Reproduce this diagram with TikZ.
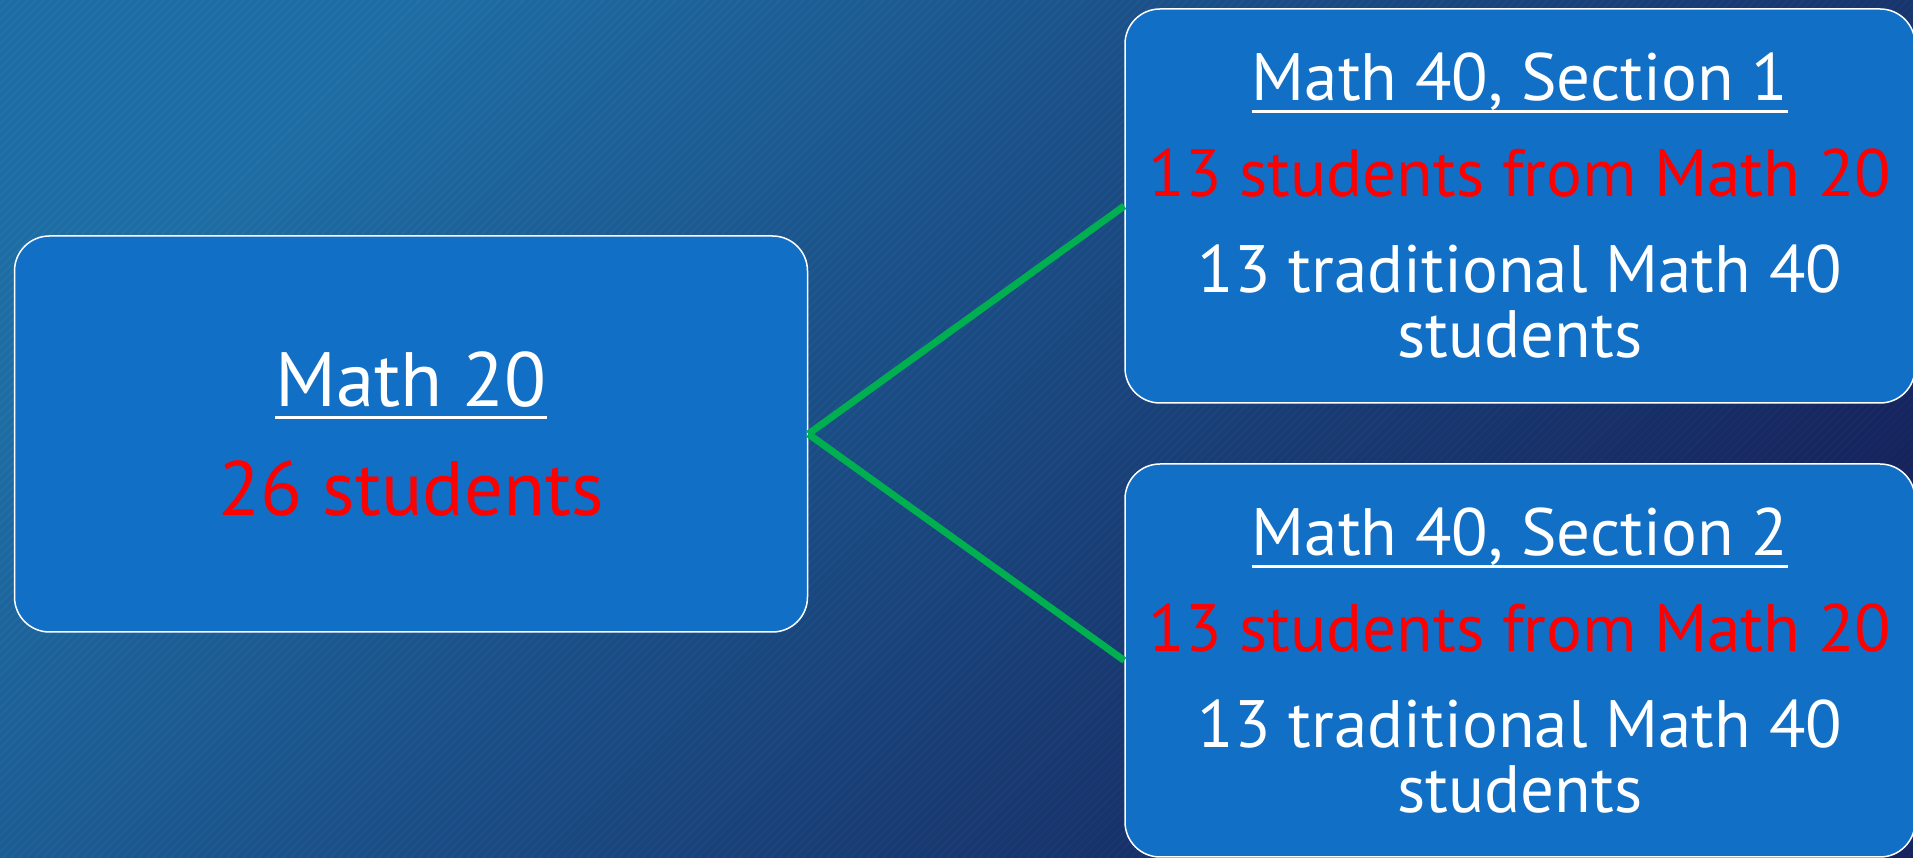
\documentclass[tikz,border=0pt]{standalone}
\usepackage{fontspec}
\setmainfont{PT Sans}
\usepackage{tikz}

\definecolor{bgtop}{RGB}{33,114,170}
\definecolor{bgbot}{RGB}{24,38,96}
\definecolor{boxblue}{RGB}{18,111,198}
\definecolor{linkgreen}{RGB}{0,176,80}

\newcommand\ulhead[1]{\setbox0\hbox{#1}\rlap{\rule[-12.5pt]{\wd0}{3pt}}\box0}

\tikzset{
  course/.style={draw=white, line width=1.5pt, fill=boxblue, rounded corners=35pt,
                 text=white, align=center, inner sep=0pt},
  bigtext/.style={font=\fontsize{77}{80}\selectfont},
  smalltext/.style={font=\fontsize{67}{65}\selectfont},
  link/.style={linkgreen, line width=7pt}
}

\begin{document}
\begin{tikzpicture}[x=1pt,y=1pt]
\useasboundingbox (0,0) rectangle (1913,858);
\shade[shading=axis, top color=bgtop, bottom color=bgbot, shading angle=45] (0,0) rectangle (1913,858);
\begin{scope}
\clip (0,0) rectangle (1913,858);
\foreach \i in {0,8,...,2780}
        \draw[black, opacity=0.05, line width=3pt] (\i-858,0)--(\i,858);
\end{scope}

\node[course, bigtext, minimum width=793pt, minimum height=396pt] (m20) at (411,424) {%
  \ulhead{Math 20}\\[29pt]
  \textcolor{red}{26 students}};

\node[course, smalltext, minimum width=790pt, minimum height=394pt] (sec1) at (1520,652) {%
  \ulhead{Math 40, Section 1}\\[31pt]
  \textcolor{red}{13 students from Math 20}\\[31pt]
  13 traditional Math 40\\ students};

\node[course, smalltext, minimum width=790pt, minimum height=393pt] (sec2) at (1520,197.5) {%
  \ulhead{Math 40, Section 2}\\[31pt]
  \textcolor{red}{13 students from Math 20}\\[31pt]
  13 traditional Math 40\\ students};

\draw[link] (m20.east)--(sec1.west);
\draw[link] (m20.east)--(sec2.west);
\end{tikzpicture}
\end{document}
